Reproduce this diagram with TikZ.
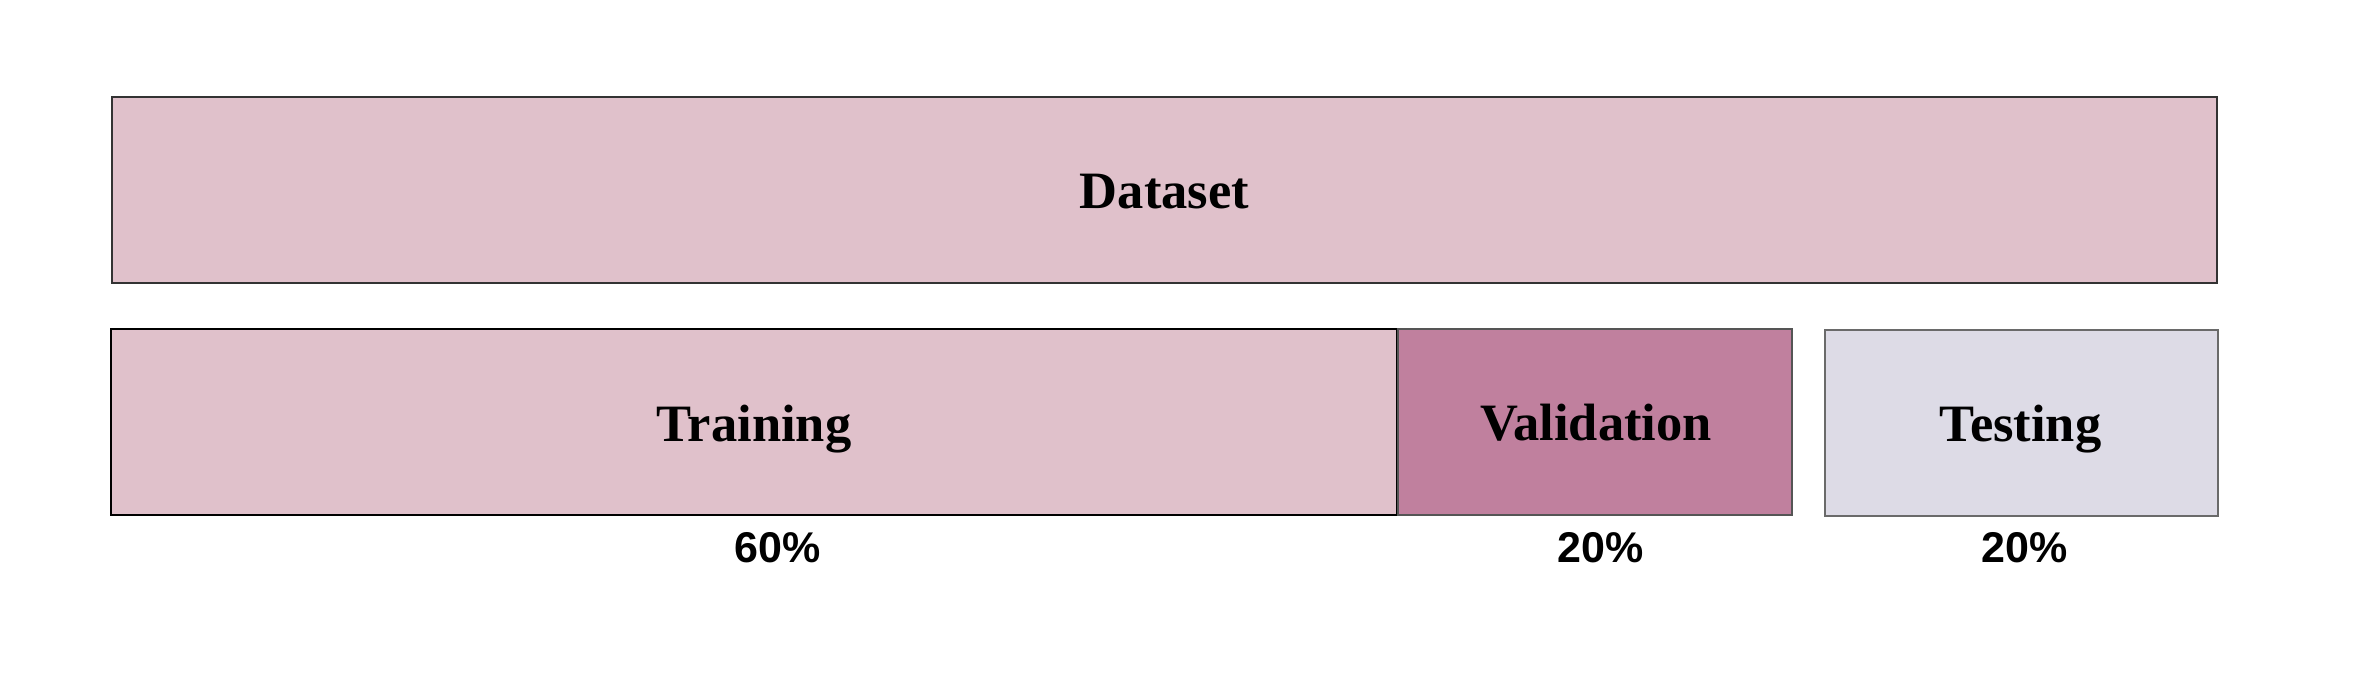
\documentclass[tikz,border=0pt]{standalone}
\usepackage{fontspec}
\setmainfont{Liberation Serif}
\setsansfont{Liberation Sans}
\definecolor{pinkA}{HTML}{E0C1CB}
\definecolor{mauve}{HTML}{C0809E}
\definecolor{lilac}{HTML}{DDDBE6}
\definecolor{edgeA}{HTML}{333333}
\definecolor{edgeB}{HTML}{555555}
\definecolor{edgeC}{HTML}{6A6A6A}
\begin{document}
\begin{tikzpicture}[x=1pt,y=-1pt,
  partbox/.style={line width=1.3pt},
  boxlabel/.style={font=\fontsize{52.5}{60}\selectfont\bfseries, anchor=base, inner sep=0pt},
  pctlabel/.style={font=\fontsize{43}{50}\selectfont\sffamily\bfseries, anchor=base, inner sep=0pt}]
\useasboundingbox[fill=white] (0,0) rectangle (2375,688);
% boxes
\draw[partbox, fill=pinkA, draw=edgeA] (112,97) rectangle (2217,283);
\draw[partbox, fill=pinkA, draw=black] (111,329) rectangle (1397,515);
\draw[partbox, fill=mauve, draw=edgeB] (1398,329) rectangle (1792,515);
\draw[partbox, line width=1.8pt, fill=lilac, draw=edgeC] (1825,330) rectangle (2218,516);
% labels
\node[boxlabel] (dataset) at (1164.5,208) {Dataset};
\node[boxlabel] (training) at (754,441) {Training};
\node[boxlabel] (validation) at (1596,440) {Validation};
\node[boxlabel] (testing) at (2020.5,441) {Testing};
\node[pctlabel] (ptrain) at (777.5,562) {60\%};
\node[pctlabel] (pval) at (1600.5,562) {20\%};
\node[pctlabel] (ptest) at (2025,562) {20\%};
\end{tikzpicture}
\end{document}
